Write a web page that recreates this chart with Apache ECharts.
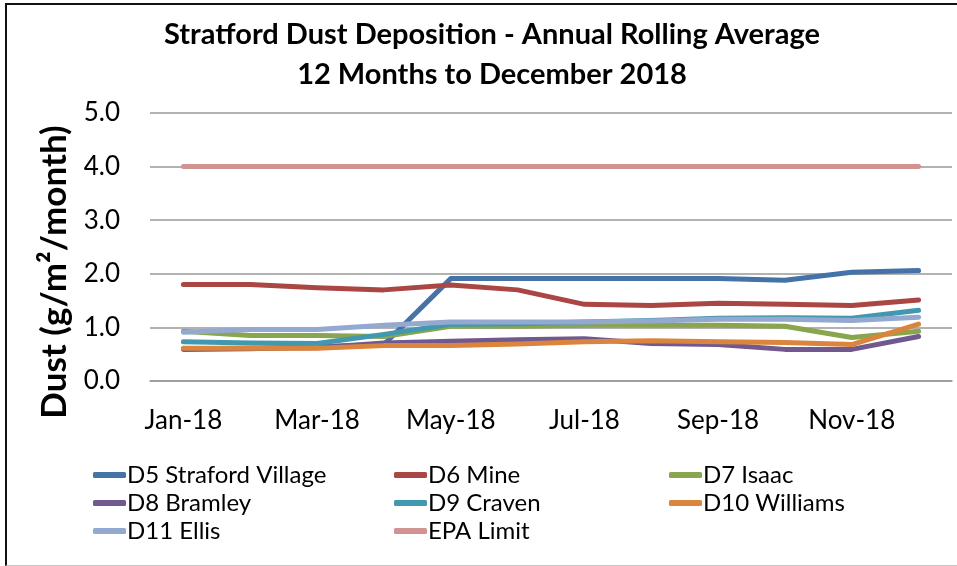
<!DOCTYPE html>
<html>
<head>
<meta charset="utf-8">
<script src="https://cdn.jsdelivr.net/npm/echarts@6/dist/echarts.min.js"></script>
<style>
  html, body { margin: 0; padding: 0; background: #fff; }
  #main { position: absolute; left: 0; top: 0; width: 957px; height: 566px; }
  .frame {
    position: absolute; left: 5px; top: 3px; width: 960px; height: 560px;
    border-top: 2px solid #111; border-left: 2px solid #111; border-bottom: 1px solid #c8c8c8;
    pointer-events: none;
  }
</style>
</head>
<body>
<div id="main"></div>
<div class="frame"></div>
<script>
// months on the x axis
var months = ['Jan-18', 'Feb-18', 'Mar-18', 'Apr-18', 'May-18', 'Jun-18',
              'Jul-18', 'Aug-18', 'Sep-18', 'Oct-18', 'Nov-18', 'Dec-18'];

// annual rolling average per gauge (g/m2/month)
var d5Village  = [0.59, 0.60, 0.64, 0.68, 1.91, 1.91, 1.91, 1.91, 1.91, 1.88, 2.03, 2.06];
var d6Mine     = [1.80, 1.80, 1.74, 1.70, 1.79, 1.70, 1.43, 1.41, 1.45, 1.43, 1.41, 1.51];
var d7Isaac    = [0.93, 0.85, 0.85, 0.83, 1.02, 1.02, 1.04, 1.04, 1.04, 1.02, 0.81, 0.93];
var d8Bramley  = [0.60, 0.61, 0.62, 0.71, 0.74, 0.77, 0.79, 0.70, 0.68, 0.59, 0.59, 0.83];
var d9Craven   = [0.73, 0.71, 0.70, 0.87, 1.06, 1.07, 1.10, 1.13, 1.17, 1.18, 1.17, 1.32];
var d10Will    = [0.61, 0.61, 0.61, 0.66, 0.66, 0.69, 0.73, 0.75, 0.73, 0.72, 0.68, 1.06];
var d11Ellis   = [0.91, 0.96, 0.96, 1.04, 1.10, 1.10, 1.10, 1.12, 1.15, 1.15, 1.13, 1.19];
var epaLimit   = [4, 4, 4, 4, 4, 4, 4, 4, 4, 4, 4, 4];

var seriesNames = ['D5 Straford Village', 'D6 Mine', 'D7 Isaac', 'D8 Bramley',
                   'D9 Craven', 'D10 Williams', 'D11 Ellis', 'EPA Limit'];
var seriesData = [d5Village, d6Mine, d7Isaac, d8Bramley, d9Craven, d10Will, d11Ellis, epaLimit];
var colors = ['#4572A7', '#AA4643', '#89A54E', '#71588F', '#4198AF', '#DB843D', '#93A9CF', '#D19392'];

var font = 'Lato, "Open Sans", sans-serif';

var myChart = echarts.init(document.getElementById('main'));

function legendCol(names, left) {
  return {
    orient: 'vertical',
    left: left,
    top: 458,
    itemWidth: 33,
    itemHeight: 6,
    itemGap: 4,
    icon: 'roundRect',
    data: names,
    textStyle: { fontFamily: font, fontSize: 24, color: '#000', padding: [0, 0, 0, -4] }
  };
}

var option = {
  animation: false,
  color: colors,
  title: {
    text: 'Stratford Dust Deposition - Annual Rolling Average\n12 Months to December 2018',
    left: 487,
    textAlign: 'center',
    top: 10,
    textStyle: { fontFamily: font, fontSize: 29, fontWeight: 'bold', color: '#000', lineHeight: 40 }
  },
  legend: [
    legendCol(['D5 Straford Village', 'D8 Bramley', 'D11 Ellis'], 88),
    legendCol(['D6 Mine', 'D9 Craven', 'EPA Limit'], 389),
    legendCol(['D7 Isaac', 'D10 Williams'], 664)
  ],
  grid: { left: 150, right: 5, top: 113, bottom: 185 },
  xAxis: {
    type: 'category',
    data: months,
    boundaryGap: true,
    axisLine: { show: true, lineStyle: { color: '#999', width: 1.5 } },
    axisTick: { show: false },
    axisLabel: { interval: 1, margin: 27, fontFamily: font, fontSize: 26, color: '#000' }
  },
  yAxis: {
    type: 'value',
    min: 0,
    max: 5,
    interval: 1,
    axisLine: { show: false },
    axisTick: { show: false },
    splitLine: { lineStyle: { color: '#999', width: 1.5 } },
    axisLabel: {
      margin: 30,
      fontFamily: font, fontSize: 26, color: '#000',
      formatter: function (v) { return v.toFixed(1); }
    }
  },
  graphic: [{
    type: 'text',
    x: 55,
    y: 272,
    rotation: Math.PI / 2,
    style: {
      text: 'Dust (g/m²/month)',
      fontFamily: font, fontSize: 35, fontWeight: 'bold', fill: '#000',
      textAlign: 'center', textVerticalAlign: 'middle'
    }
  }],
  series: seriesNames.map(function (name, i) {
    return {
      name: name,
      type: 'line',
      data: seriesData[i],
      symbol: 'none',
      lineStyle: { width: 5, cap: 'round', join: 'round' }
    };
  })
};

myChart.setOption(option);
</script>
</body>
</html>
